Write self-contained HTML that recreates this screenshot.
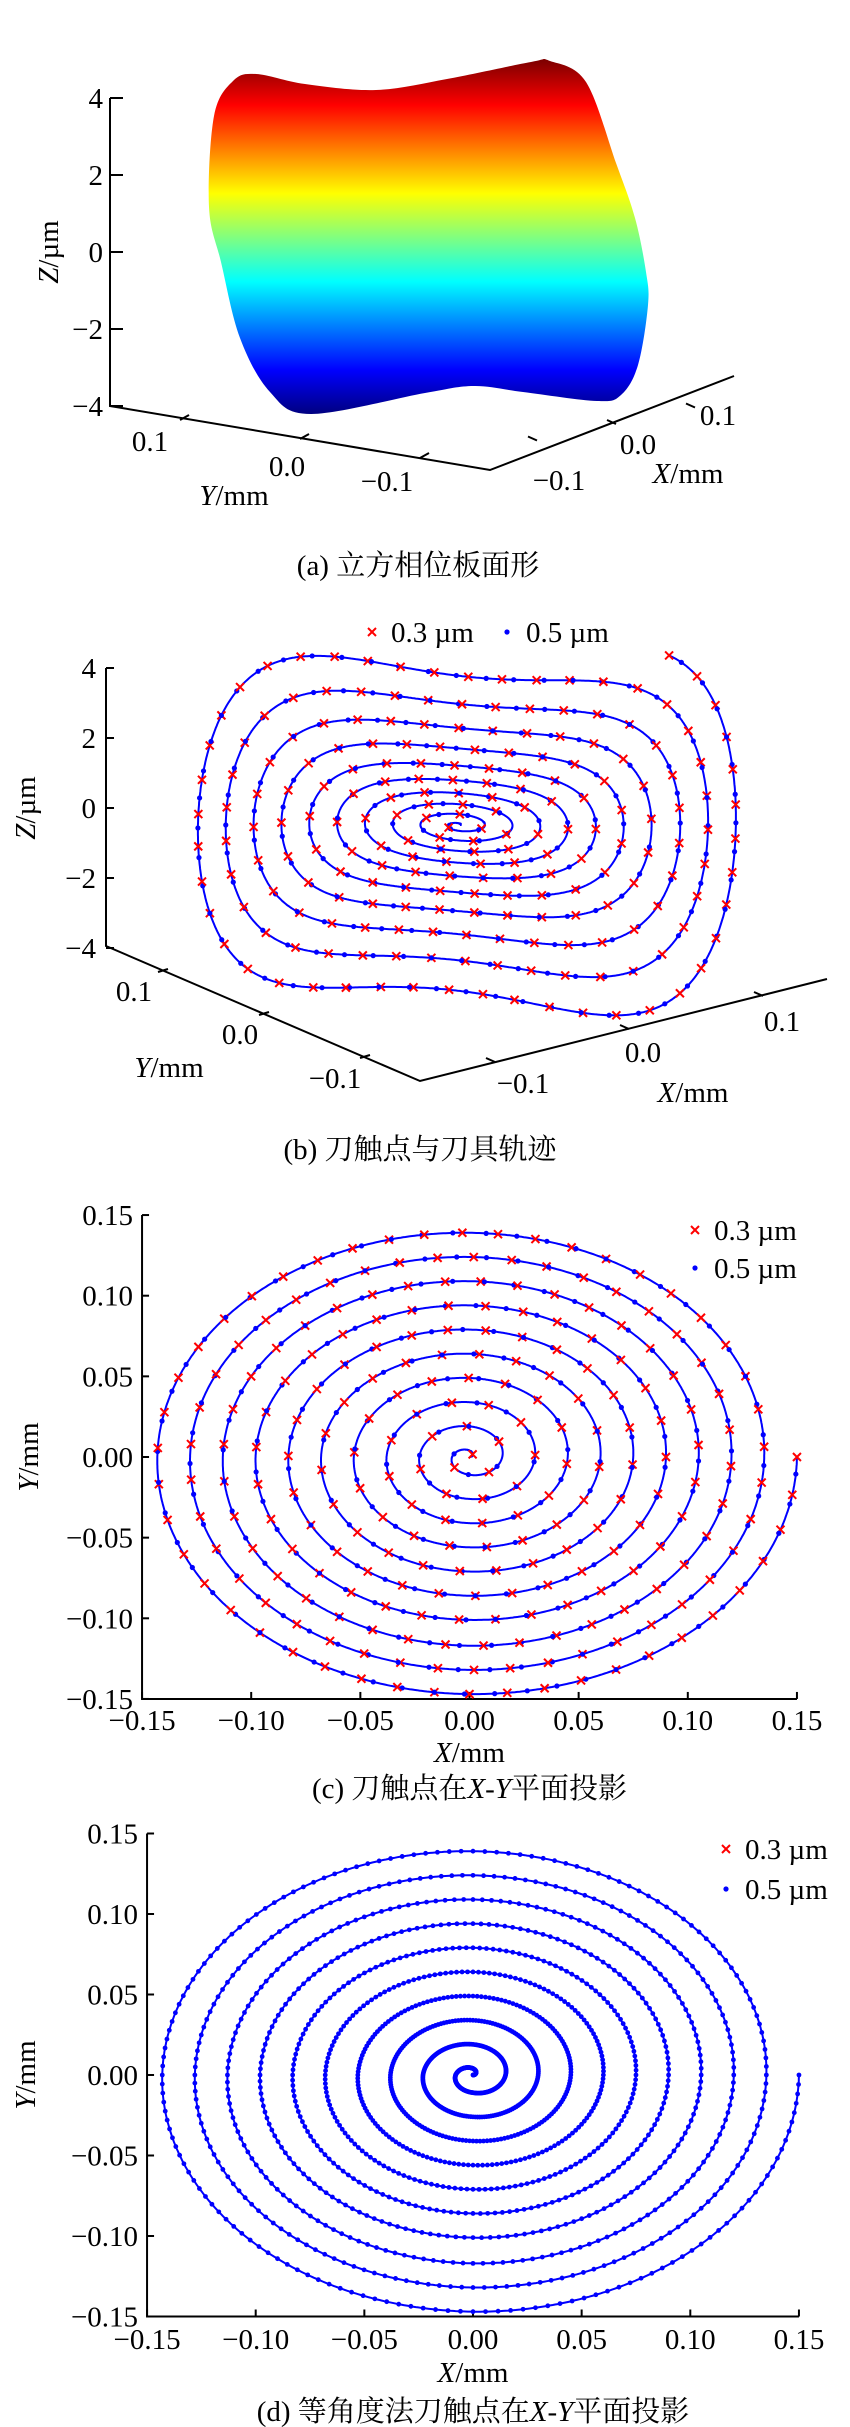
<!DOCTYPE html>
<html><head><meta charset="utf-8"><style>
html,body{margin:0;padding:0;background:#fff;}
svg{display:block;}
text{font-family:"Liberation Serif","Noto Serif CJK SC",serif;fill:#000;}
</style></head><body>
<svg id="fig" width="850" height="2427" viewBox="0 0 850 2427" xmlns="http://www.w3.org/2000/svg">
<defs>
<linearGradient id="jet" gradientUnits="userSpaceOnUse" x1="0" y1="61" x2="0" y2="414">
<stop offset="0" stop-color="#800000"/><stop offset="0.125" stop-color="#ff0000"/>
<stop offset="0.375" stop-color="#ffff00"/><stop offset="0.5" stop-color="#80ff80"/>
<stop offset="0.625" stop-color="#00ffff"/><stop offset="0.875" stop-color="#0000ff"/>
<stop offset="1" stop-color="#000080"/>
</linearGradient>
</defs>
<g id="pa"></g>
<g id="pb"></g>
<g id="pc"></g>
<g id="pd"></g>
</svg>
<script>
// ---- data ----
const spiralR = [0.150,0.147,0.143,0.139, 0.135,0.132,0.128,0.124, 0.120,0.117,0.113,0.109,
  0.105,0.101,0.098,0.094, 0.090,0.086,0.083,0.079, 0.075,0.071,0.068,0.064,
  0.060,0.056,0.053,0.049, 0.045,0.041,0.038,0.034, 0.030,0.026,0.023,0.019,
  0.015,0.011,0.008,0.004, 0.000];
const cubicCoef = 1000;
const zTicks3d = [4,2,0,-2,-4];
const zTickLabels3d = ["4","2","0","\u22122","\u22124"];
const xyTicks3d = [0.1,0.0,-0.1];
const xyTickLabels3d = ["0.1","0.0","\u22120.1"];
const planeTicks = [-0.15,-0.10,-0.05,0,0.05,0.10,0.15];
const planeTickLabels = ["\u22120.15","\u22120.10","\u22120.05","0.00","0.05","0.10","0.15"];
const dPerTurn = 160;
const legendLabels = ["0.3 \u00b5m","0.5 \u00b5m"];

const NS="http://www.w3.org/2000/svg";
function mk(parent,tag,attrs){const e=document.createElementNS(NS,tag);for(const k in attrs)e.setAttribute(k,attrs[k]);parent.appendChild(e);return e;}
function txt(parent,x,y,s,anchor,size){const t=mk(parent,'text',{x:x,y:y,'font-size':size||29,'text-anchor':anchor||'start'});t.innerHTML=s;return t;}

function rAt(t){const i=Math.min(Math.floor(t),spiralR.length-2);const f=t-i;return spiralR[i]*(1-f)+spiralR[i+1]*f;}
function spiralPts(n){const pts=[];const T=spiralR.length-1;for(let k=0;k<=n;k++){const t=k/n*T;const r=rAt(t);const ph=-t*Math.PI/2;pts.push([r*Math.cos(ph),r*Math.sin(ph),t]);}return pts;}
function cross(g,x,y){const s=4;const p=mk(g,'path',{d:`M${x-s},${y-s}L${x+s},${y+s}M${x-s},${y+s}L${x+s},${y-s}`,stroke:'#ff0000','stroke-width':2});
return p;}
function dot(g,x,y,r){const c=mk(g,'circle',{cx:x,cy:y,r:r||2.6,fill:'#0000ff'});
return c;}
function markersByArc(g,scr,stepR,offR,stepB,offB){
  let acc=0;let nextR=offR,nextB=offB;
  for(let i=0;i<scr.length;i++){
    if(i>0){acc+=Math.hypot(scr[i][0]-scr[i-1][0],scr[i][1]-scr[i-1][1]);}
    if(acc>=nextR){cross(g,scr[i][0],scr[i][1]);nextR+=stepR;}
    if(acc>=nextB){dot(g,scr[i][0],scr[i][1]);nextB+=stepB;}
  }
}
function polyline(g,scr,name){const p=mk(g,'polyline',{points:scr.map(p=>p[0].toFixed(1)+','+p[1].toFixed(1)).join(' '),fill:'none',stroke:'#0000ff','stroke-width':2});
}
function smoothClosed(P){let d=`M${P[0][0]},${P[0][1]}`;const n=P.length;
 for(let i=0;i<n;i++){const p0=P[(i-1+n)%n],p1=P[i],p2=P[(i+1)%n],p3=P[(i+2)%n];
  const c1=[p1[0]+(p2[0]-p0[0])/6,p1[1]+(p2[1]-p0[1])/6],c2=[p2[0]-(p3[0]-p1[0])/6,p2[1]-(p3[1]-p1[1])/6];
  d+=`C${c1[0].toFixed(1)},${c1[1].toFixed(1)} ${c2[0].toFixed(1)},${c2[1].toFixed(1)} ${p2[0]},${p2[1]}`;}
 return d+'Z';}

// ---- Panel a ----
(function(){
const g=document.getElementById('pa');
const outline=[[233,81],[256,74],[305,84],[376,90],[447,79],[531,62],[550,61],[586,82],[616,163],[635,218],[646,272],[648,305],[638,365],[621,395],[597,401],[523,392],[474,386],[425,393],[311,414],[270,392],[240,338],[221,262],[209,207],[214,116]];
const surf=mk(g,'path',{d:smoothClosed(outline),fill:'url(#jet)'});

const zy=v=>252-v*38.5;
const ax=mk(g,'path',{d:`M110,${zy(4)}L110,406L490,470L734,376`,fill:'none',stroke:'#000','stroke-width':2});

zTicks3d.forEach((v,i)=>{mk(g,'line',{x1:110,y1:zy(v),x2:123,y2:zy(v),stroke:'#000','stroke-width':2});
 const t=txt(g,103,zy(v)+10,zTickLabels3d[i],'end');});
const yPos=v=>[300-v*1200,439-v*190];
const yLab=[[150,451],[287,476],[387,491]];
xyTicks3d.forEach((v,i)=>{const p=yPos(v);mk(g,'line',{x1:p[0],y1:p[1],x2:p[0]+9,y2:p[1]-5,stroke:'#000','stroke-width':2});
 const t=txt(g,yLab[i][0],yLab[i][1],xyTickLabels3d[i],'middle');});
const xPos=v=>[616+v*790,424-v*165];
const xLab=[[718,425],[638,454],[559,490]];
xyTicks3d.forEach((v,i)=>{const p=xPos(v);mk(g,'line',{x1:p[0],y1:p[1],x2:p[0]-9,y2:p[1]-4,stroke:'#000','stroke-width':2});
 const t=txt(g,xLab[i][0],xLab[i][1],xyTickLabels3d[i],'middle');});
let t=txt(g,234,505,'<tspan font-style="italic">Y</tspan>/mm','middle');
t=txt(g,688,483,'<tspan font-style="italic">X</tspan>/mm','middle');
t=txt(g,0,0,'<tspan font-style="italic">Z</tspan>/\u00b5m','middle');t.setAttribute('transform','translate(58,252) rotate(-90)');
t=txt(g,418,575,'(a) 立方相位板面形','middle');
})();

// ---- Panel b ----
(function(){
const g=document.getElementById('pb');
const zy=v=>808-v*35;
const ax=mk(g,'path',{d:`M106,${zy(4)}L106,946L420,1081L827,979`,fill:'none',stroke:'#000','stroke-width':2});

zTicks3d.forEach((v,i)=>{mk(g,'line',{x1:106,y1:zy(v),x2:114,y2:zy(v),stroke:'#000','stroke-width':2});
 const t=txt(g,96,zy(v)+10,zTickLabels3d[i],'end');});
const yPos=v=>[259-v*1010,1015-v*430];
const yLab=[[134,1001],[240,1044],[335,1088]];
xyTicks3d.forEach((v,i)=>{const p=yPos(v);mk(g,'line',{x1:p[0],y1:p[1],x2:p[0]+10,y2:p[1]-3,stroke:'#000','stroke-width':2});
 const t=txt(g,yLab[i][0],yLab[i][1],xyTickLabels3d[i],'middle');});
const xPos=v=>[629+v*1340,1029-v*330];
const xLab=[[782,1031],[643,1062],[523,1093]];
xyTicks3d.forEach((v,i)=>{const p=xPos(v);mk(g,'line',{x1:p[0],y1:p[1],x2:p[0]-9,y2:p[1]-4,stroke:'#000','stroke-width':2});
 const t=txt(g,xLab[i][0],xLab[i][1],xyTickLabels3d[i],'middle');});
let t=txt(g,169,1077,'<tspan font-style="italic">Y</tspan>/mm','middle');
t=txt(g,693,1102,'<tspan font-style="italic">X</tspan>/mm','middle');
t=txt(g,0,0,'<tspan font-style="italic">Z</tspan>/\u00b5m','middle');t.setAttribute('transform','translate(35,808) rotate(-90)');
t=txt(g,420,1159,'(b) 刀触点与刀具轨迹','middle');
const lg=mk(g,'g',{});
cross(lg,372,632);txt(lg,391,642,legendLabels[0]);dot(lg,507,632);txt(lg,526,642,legendLabels[1]);
const proj=(X,Y)=>{const Z=cubicCoef*(X*X*X+Y*Y*Y);return [460+1394*X-1226*Y,825-343*X-522*Y-35*Z];};
const scr=spiralPts(8000).map(p=>proj(p[0],p[1]));
polyline(g,scr,'tool-path-3d');
markersByArc(g,scr,34,0,29,14);
})();

// ---- Panel c/d ----
function planePanel(gid,o){
const g=document.getElementById(gid);
const xs=v=>o.cx+v*o.kx, ys=v=>o.cy-v*o.ky;
const ax=mk(g,'path',{d:`M${xs(-0.15)},${ys(0.15)}L${xs(-0.15)},${ys(-0.15)}L${xs(0.15)},${ys(-0.15)}`,fill:'none',stroke:'#000','stroke-width':2});

planeTicks.forEach((v,i)=>{
 mk(g,'line',{x1:xs(-0.15),y1:ys(v),x2:xs(-0.15)+7,y2:ys(v),stroke:'#000','stroke-width':2});
 mk(g,'line',{x1:xs(v),y1:ys(-0.15),x2:xs(v),y2:ys(-0.15)-7,stroke:'#000','stroke-width':2});
 let t=txt(g,xs(-0.15)-9,ys(v)+10,planeTickLabels[i],'end');
 t=txt(g,xs(v),o.xLabY,planeTickLabels[i],'middle');
});
let t=txt(g,o.cx,o.xTitleY,'<tspan font-style="italic">X</tspan>/mm','middle');
t=txt(g,0,0,'<tspan font-style="italic">Y</tspan>/mm','middle');t.setAttribute('transform',`translate(${o.yTitleX},${o.cy}) rotate(-90)`);
t=txt(g,o.cx,o.capY,o.caption,'middle');
const lg=mk(g,'g',{});
cross(lg,o.legX,o.legY);txt(lg,o.legX+19,o.legY+10,legendLabels[0]);
dot(lg,o.legX,o.legY+o.legDy);txt(lg,o.legX+19,o.legY+o.legDy+10,legendLabels[1]);
const pts=spiralPts(8000);
const scr=pts.map(p=>[xs(p[0]),ys(p[1])]);
polyline(g,scr,'contact-point-path');
if(o.equalAngle){
 const T=spiralR.length-1;const n=T/4*dPerTurn;
 for(let k=0;k<=n;k++){const tt=k/n*T;const r=rAt(tt);const ph=-tt*Math.PI/2;dot(g,xs(r*Math.cos(ph)),ys(r*Math.sin(ph)),2.4);}
}else{
 markersByArc(g,scr,37,0,31,16);
}
}
planePanel('pc',{cx:469.5,kx:2183,cy:1457,ky:1613,xLabY:1730,xTitleY:1762,yTitleX:38,capY:1798,
 caption:'(c) 刀触点在<tspan font-style="italic">X</tspan>-<tspan font-style="italic">Y</tspan>平面投影',legX:695,legY:1230,legDy:38,equalAngle:false});
planePanel('pd',{cx:473,kx:2173,cy:2075,ky:1610,xLabY:2349,xTitleY:2382,yTitleX:35,capY:2421,
 caption:'(d) 等角度法刀触点在<tspan font-style="italic">X</tspan>-<tspan font-style="italic">Y</tspan>平面投影',legX:726,legY:1849,legDy:40,equalAngle:true});
</script>
</body></html>
